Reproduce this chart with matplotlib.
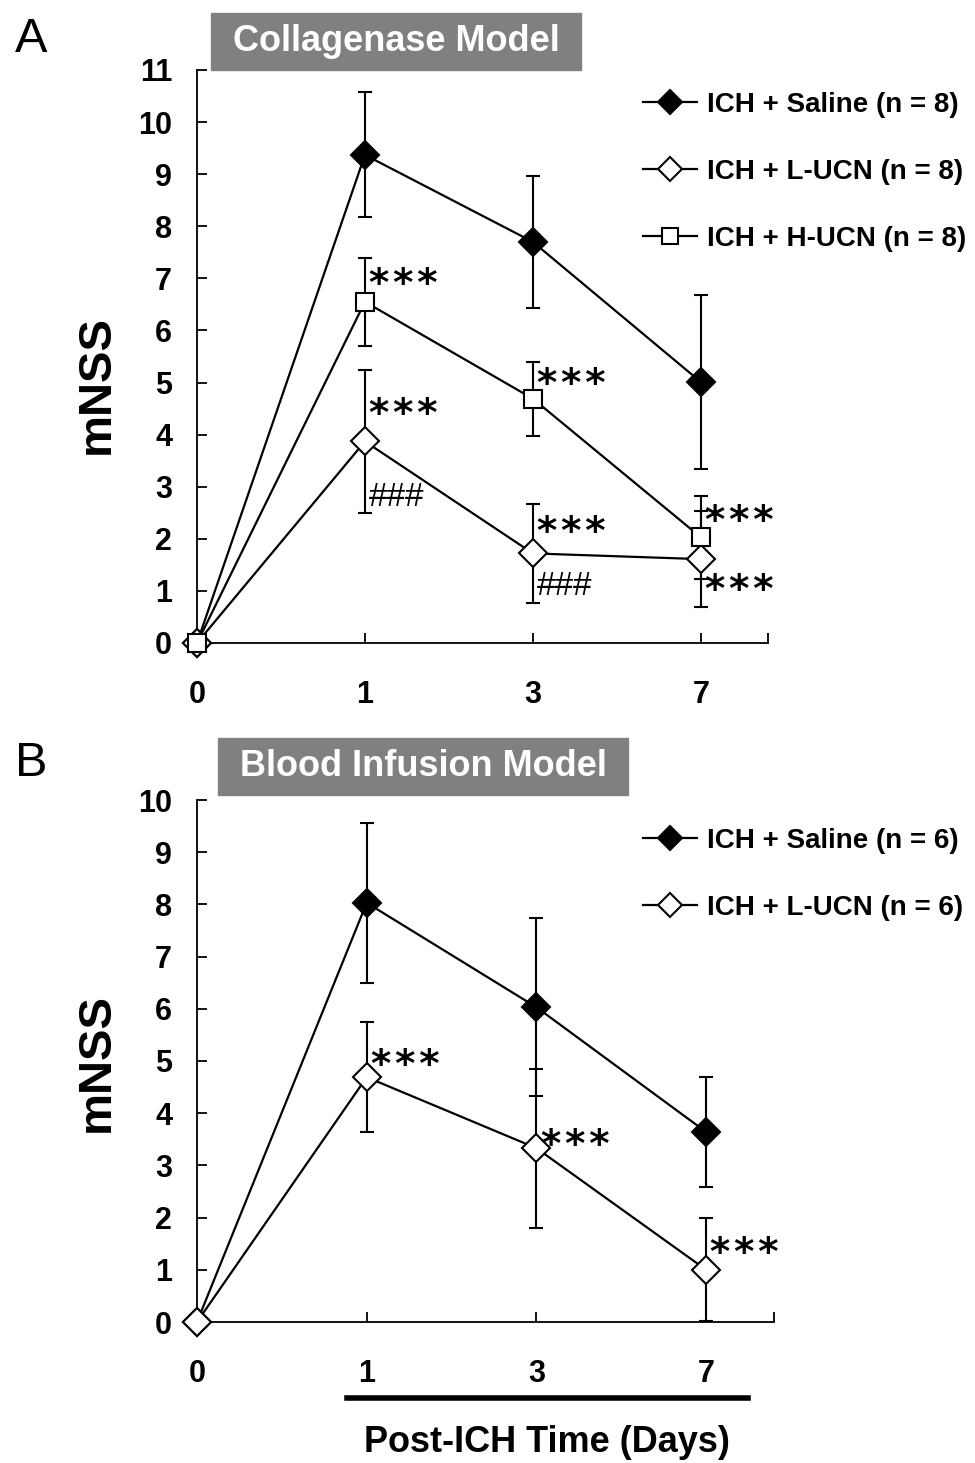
import numpy as np
import matplotlib
matplotlib.use("Agg")
import matplotlib.pyplot as plt
from matplotlib.patches import Rectangle
from matplotlib.lines import Line2D

plt.rcParams['font.family'] = ['Liberation Sans', 'DejaVu Sans']

# x axis: categories (days after ICH), drawn at equal spacing
days = ['0', '1', '3', '7']

# panel A - collagenase model
a_saline = [0, 9.37, 7.70, 5.01]
a_saline_err = [0, 1.20, 1.27, 1.67]
a_lucn = [0, 3.87, 1.72, 1.61]
a_lucn_err = [0, 1.37, 0.95, 0.92]
a_hucn = [0, 6.55, 4.69, 2.03]
a_hucn_err = [0, 0.84, 0.71, 0.80]

# panel B - blood infusion model
b_saline = [0, 8.03, 6.03, 3.64]
b_saline_err = [0, 1.53, 1.71, 1.06]
b_lucn = [0, 4.69, 3.33, 1.00]
b_lucn_err = [0, 1.05, 1.52, 0.99]

# significance marks: (day index, y, text)
STARS = '*\u200a*\u200a*'
a_marks = [(1, 7.05, STARS), (1, 4.55, STARS), (2, 5.12, STARS), (2, 2.28, STARS),
           (3, 2.50, STARS), (3, 1.17, STARS)]
a_hash = [(1, 2.80, '###'), (2, 1.09, '###')]
b_marks = [(1, 5.08, STARS), (2, 3.54, STARS), (3, 1.48, STARS)]

W, H = 975, 1463
fig = plt.figure(figsize=(W / 100, H / 100), dpi=100)


def series(ax, vals, errs, marker, face, label):
    x = np.arange(len(vals))
    ax.errorbar(x[1:], vals[1:], yerr=errs[1:], fmt='none', ecolor='black',
                elinewidth=1.5, capsize=5, capthick=1.5, zorder=2, clip_on=False)
    ax.plot(x, vals, color='black', lw=1.6, marker=marker, ms=14 if marker == 'D' else 13.5,
            mfc=face, mec='black', mew=1.5, label=label, zorder=3, clip_on=False)


def setup(ax, ymax):
    ax.set_xlim(0, 3.4)
    ax.set_ylim(0, ymax)
    for s in ['top', 'right']:
        ax.spines[s].set_visible(False)
    for s in ['left', 'bottom']:
        ax.spines[s].set_linewidth(1.3)
    ax.set_xticks([0, 1, 2, 3, 3.4], days + [''])
    ax.set_yticks(range(ymax + 1))
    ax.tick_params(axis='both', direction='in', length=7, width=1.3)
    ax.tick_params(axis='x', pad=27, labelsize=22)
    ax.tick_params(axis='y', pad=18, labelsize=22)
    for t in ax.get_xticklabels() + ax.get_yticklabels():
        t.set_fontweight('bold')


def marks(ax, lst, font, size, weight, dy):
    for xi, y, s in lst:
        ax.annotate(s, (xi, y), xytext=(3, dy), textcoords='offset points',
                    ha='left', va='center', fontsize=size, fontweight=weight,
                    family=font, annotation_clip=False)


def title_box(x0, x1, y0, y1, text):
    fig.patches.append(Rectangle((x0 / W, 1 - y1 / H), (x1 - x0) / W, (y1 - y0) / H,
                                 transform=fig.transFigure, color='#808080', zorder=0))
    fig.text((x0 + x1) / 2 / W, 1 - (y0 + y1) / 2 / H, text, color='white',
             fontsize=26, fontweight='bold', ha='center', va='center')


def legend(ax, top):
    ax.legend(loc='upper left', bbox_to_anchor=(643 / W, 1 - top / H),
              bbox_transform=fig.transFigure, frameon=False,
              prop={'weight': 'bold', 'size': 20}, handlelength=1.95, markerscale=0.9,
              handletextpad=0.35, labelspacing=1.47, borderpad=0, borderaxespad=0)


# ---- panel A
axA = fig.add_axes([197 / W, 1 - 643 / H, 571 / W, 573 / H])
setup(axA, 11)
series(axA, a_saline, a_saline_err, 'D', 'black', 'ICH + Saline (n = 8)')
series(axA, a_lucn, a_lucn_err, 'D', 'white', 'ICH + L-UCN (n = 8)')
series(axA, a_hucn, a_hucn_err, 's', 'white', 'ICH + H-UCN (n = 8)')
marks(axA, a_marks, ['DejaVu Sans'], 28, 'bold', -6.5)
marks(axA, a_hash, ['Liberation Sans'], 24, 'normal', 0)
legend(axA, 92)

# ---- panel B
axB = fig.add_axes([197 / W, 1 - 1322 / H, 577 / W, 522 / H])
setup(axB, 10)
series(axB, b_saline, b_saline_err, 'D', 'black', 'ICH + Saline (n = 6)')
series(axB, b_lucn, b_lucn_err, 'D', 'white', 'ICH + L-UCN (n = 6)')
marks(axB, b_marks, ['DejaVu Sans'], 28, 'bold', -6.5)
legend(axB, 828)

# y labels, panel letters, titles
for yc in [385, 1062]:
    fig.text(97 / W, 1 - yc / H, 'mNSS', rotation=90, fontsize=34, fontweight='bold',
             ha='center', va='center')
fig.text(31 / W, 1 - 39 / H, 'A', fontsize=35, ha='center', va='center')
fig.text(31 / W, 1 - 764 / H, 'B', fontsize=35, ha='center', va='center')
title_box(211, 581, 13, 70, 'Collagenase Model')
title_box(218, 628, 738, 795, 'Blood Infusion Model')

# x axis label with bar
fig.add_artist(Line2D([347 / W, 748 / W], [1 - 1398 / H, 1 - 1398 / H], color='black', lw=4,
                      transform=fig.transFigure))
fig.text(547 / W, 1 - 1442 / H, 'Post-ICH Time (Days)', fontsize=26, fontweight='bold',
         ha='center', va='center')

fig.savefig('out.png', dpi=100)
